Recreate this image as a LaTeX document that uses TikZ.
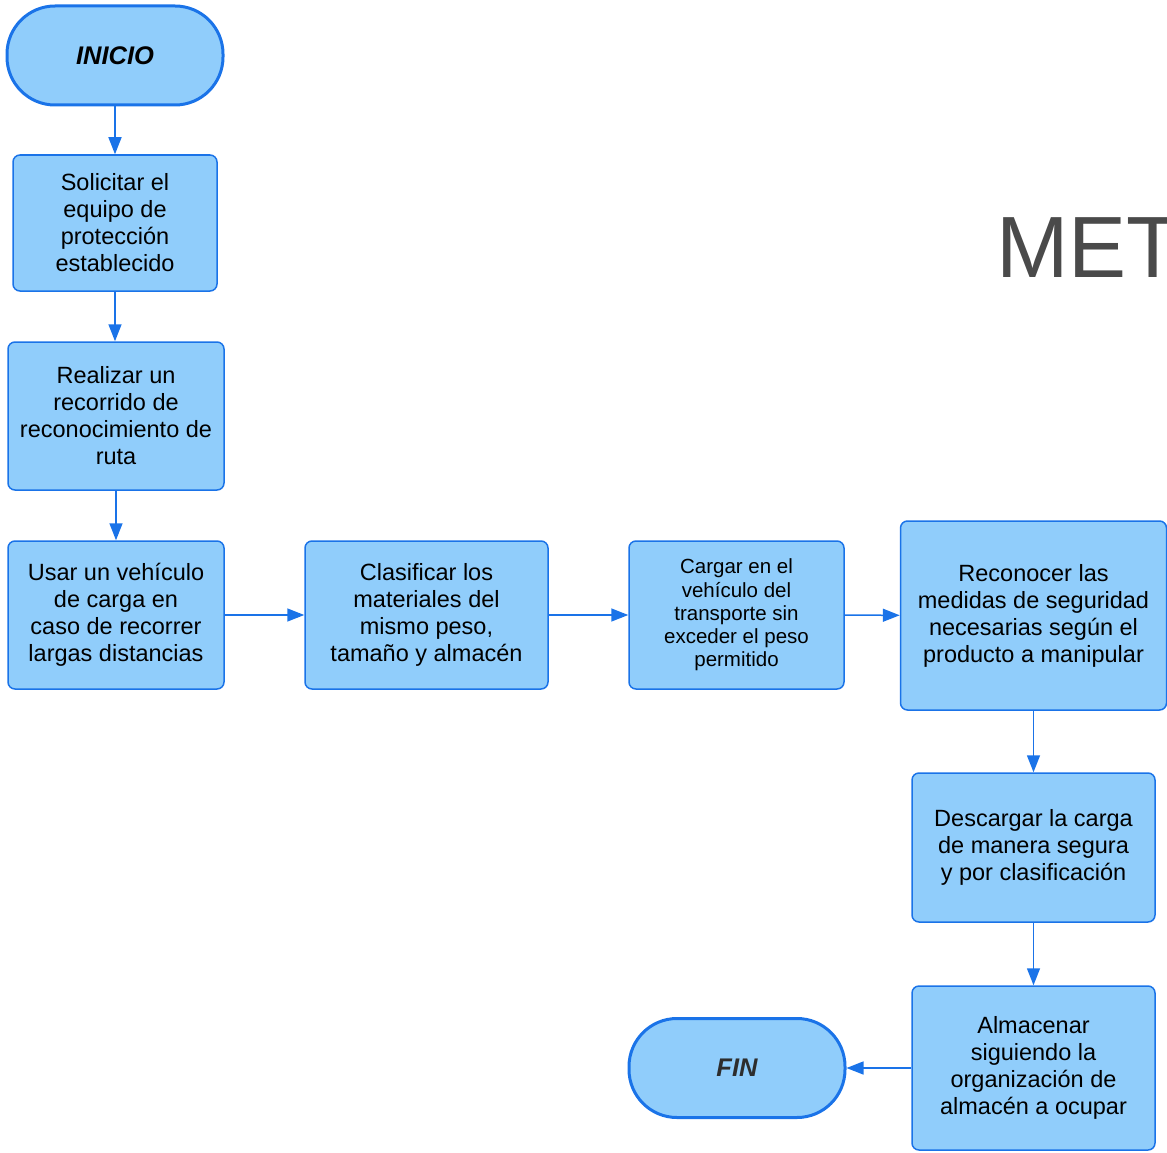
\documentclass[tikz,border=0pt]{standalone}
\usepackage{fontspec}
\setmainfont{Liberation Sans}
\usetikzlibrary{arrows.meta}
\definecolor{boxfill}{RGB}{144,205,251}
\definecolor{boxline}{RGB}{26,115,232}
\definecolor{metgray}{RGB}{74,74,74}
\definecolor{fingray}{RGB}{45,45,45}
\begin{document}
\begin{tikzpicture}[x=1pt,y=-1pt,
  proc/.style={draw=boxline, fill=boxfill, line width=1.5pt, rounded corners=7pt, inner sep=0pt, align=center, font=\fontsize{23.5}{27}\selectfont},
  term/.style={draw=boxline, fill=boxfill, line width=3pt, rounded corners=48pt, inner sep=0pt, minimum width=216pt, minimum height=99pt, font=\fontsize{25.5}{30}\selectfont\bfseries\itshape},
  flow/.style={draw=boxline, line width=1.5pt, -{Triangle[length=17pt,width=13pt]}}]
\useasboundingbox (0,0) rectangle (1167,1153);

\node[term] (ini) at (115,55.5) {INICIO};
\node[proc, minimum width=204pt, minimum height=136pt] (b1) at (115,223) {Solicitar el\\equipo de\\protección\\establecido};
\node[proc, minimum width=216pt, minimum height=148pt] (b2) at (116,416) {Realizar un\\recorrido de\\reconocimiento de\\ruta};
\node[proc, minimum width=216pt, minimum height=148pt] (b3) at (116,615) {Usar un vehículo\\de carga en\\caso de recorrer\\largas distancias};
\node[proc, minimum width=243pt, minimum height=148pt] (b4) at (426.5,615) {Clasificar los\\materiales del\\mismo peso,\\tamaño y almacén};
\node[proc, minimum width=215pt, minimum height=148pt, font=\fontsize{20.5}{23.3}\selectfont] (b5) at (736.5,615) {Cargar en el\\vehículo del\\transporte sin\\exceder el peso\\permitido};
\node[proc, minimum width=266pt, minimum height=189pt] (b6) at (1033.5,615.5) {Reconocer las\\medidas de seguridad\\necesarias según el\\producto a manipular};
\node[proc, minimum width=243pt, minimum height=149pt] (b7) at (1033.5,847.5) {Descargar la carga\\de manera segura\\y por clasificación};
\node[proc, minimum width=243pt, minimum height=164pt] (b8) at (1033.5,1068) {Almacenar\\siguiendo la\\organización de\\almacén a ocupar};
\node[term, text=fingray] (fin) at (737,1068) {FIN};
\node[anchor=base west, inner sep=0pt, text=metgray, font=\fontsize{87}{100}\selectfont] (met) at (996,277) {MET};

\draw[flow] (ini) -- (b1);
\draw[flow] (b1.south) -- (b1.south |- b2.north);
\draw[flow] (b2) -- (b3);
\draw[flow] (b3) -- (b4);
\draw[flow] (b4) -- (b5);
\draw[flow] (b5) -- (b6);
\draw[flow] (b6) -- (b7);
\draw[flow] (b7) -- (b8);
\draw[flow] (b8) -- (fin);
\end{tikzpicture}
\end{document}
